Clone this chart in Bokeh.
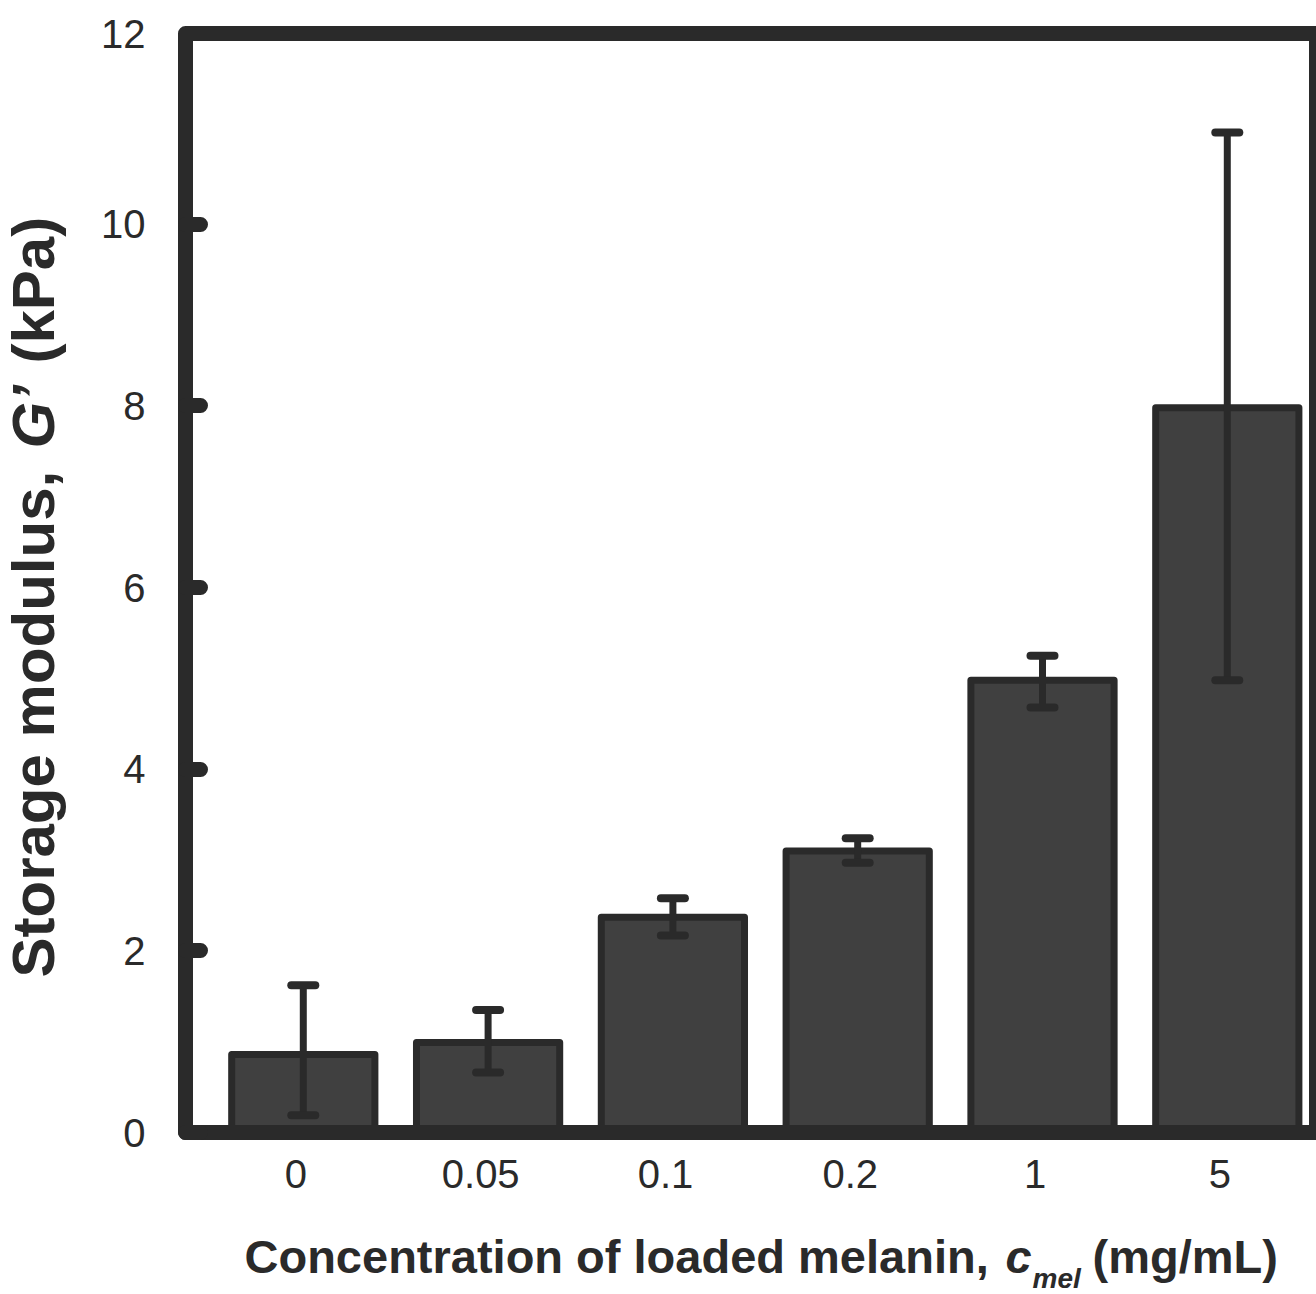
import math
from bokeh.plotting import figure
from bokeh.models import ColumnDataSource, FixedTicker, Whisker, TeeHead, Label, Range1d
from bokeh.embed import file_html
from bokeh.resources import INLINE

# ---- data ----
categories = ["0", "0.05", "0.1", "0.2", "1", "5"]          # c_mel (mg/mL)
g_prime = [0.86, 0.99, 2.37, 3.10, 4.98, 7.98]              # G' (kPa)
err_upper = [1.62, 1.35, 2.58, 3.24, 5.25, 11.01]
err_lower = [0.19, 0.66, 2.17, 2.97, 4.68, 4.98]
y_ticks = [0, 2, 4, 6, 8, 10]
y_top_tick = 12

INK = "#2a2a2a"
BAR = "#404040"
NUM_FONT = "Liberation Sans"
TITLE_FONT = "Liberation Sans"

W, H = 1316, 1294
# axes box (data units): left edge, bottom, top; right edge = canvas edge
X_LEFT, X_RIGHT = -0.6374, 5.4827
Y_TOP = 12.1
PX_X = 184.8                     # pixels per category
PX_Y = 1099 / Y_TOP              # pixels per kPa
x_start = X_LEFT - 185 / PX_X
y_start = -(H - 1132) / PX_Y
y_end = 1132 / PX_Y

pos = list(range(len(categories)))
src = ColumnDataSource(dict(x=pos, top=g_prime, upper=err_upper, lower=err_lower))

p = figure(width=W, height=H, output_backend="svg", toolbar_location=None,
           x_range=Range1d(x_start, X_RIGHT), y_range=Range1d(y_start, y_end),
           min_border=0, min_border_left=0, min_border_right=0,
           min_border_top=0, min_border_bottom=0)
p.background_fill_color = "white"
p.border_fill_color = "white"
p.outline_line_color = None
p.xgrid.visible = False
p.ygrid.visible = False

p.vbar(x="x", top="top", bottom=0, width=0.775, source=src,
       fill_color=BAR, line_color=INK, line_width=7, line_join="round")

# thick axes box
p.quad(left=[X_LEFT], right=[X_RIGHT], bottom=[0], top=[Y_TOP], fill_color=None,
       line_color=INK, line_width=15, line_join="round")

whisk = Whisker(source=src, base="x", upper="upper", lower="lower",
                line_color=INK, line_width=7, level="overlay",
                upper_head=TeeHead(size=24, line_color=INK, line_width=8, line_cap="round"),
                lower_head=TeeHead(size=24, line_color=INK, line_width=8, line_cap="round"))
p.add_layout(whisk)

xa = p.xaxis[0]
xa.fixed_location = 0
tick_pos = [i - 0.04 for i in pos]
xa.ticker = FixedTicker(ticks=tick_pos)
xa.major_label_overrides = {t: c for t, c in zip(tick_pos, categories)}
xa.axis_line_color = None
xa.major_tick_line_color = None
xa.minor_tick_line_color = None
xa.major_label_text_font = NUM_FONT
xa.major_label_text_font_size = "40px"
xa.major_label_text_color = INK
xa.major_label_standoff = 21

ya = p.yaxis[0]
ya.fixed_location = X_LEFT
ya.ticker = FixedTicker(ticks=y_ticks)
ya.axis_line_color = None
ya.minor_tick_line_color = None
ya.major_tick_in = 15
ya.major_tick_out = 0
ya.major_tick_line_width = 15
ya.major_tick_line_color = INK
ya.major_tick_line_cap = "round"
ya.major_label_text_font = NUM_FONT
ya.major_label_text_font_size = "40px"
ya.major_label_text_color = INK
ya.major_label_standoff = 40

# top tick label (its tick mark would sit under the frame line)
p.add_layout(Label(x=145, x_units="screen", y=Y_TOP, y_units="data", text=str(y_top_tick),
                   text_align="right", text_baseline="middle", text_font=NUM_FONT,
                   text_font_size="40px", text_color=INK))


def lab(text, x, y, size, style, angle=0.0):
    # x, y: canvas pixels measured from the left / bottom edge
    return Label(x=x, y=y, x_units="screen", y_units="screen", text=text, angle=angle,
                 text_align="left", text_baseline="alphabetic", text_font=TITLE_FONT,
                 text_font_size=size, text_font_style=style, text_color=INK)


# ---- x axis title (mixed styles) ----
p.add_layout(lab("Concentration of loaded melanin,", 244, 38, "47px", "bold"))
p.add_layout(lab("c", 1005, 38, "47px", "bold italic"))
p.add_layout(lab("mel", 1032, 16, "28px", "bold italic"))
p.add_layout(lab("(mg/mL)", 1092, 38, "47px", "bold"))

# ---- y axis title (rotated, mixed styles) ----
ang = math.pi / 2
p.add_layout(lab("Storage modulus,", 33, 317, "60px", "bold", ang))
p.add_layout(lab("G\u2019", 33, 846, "60px", "bold italic", ang))
p.add_layout(lab("(kPa)", 33, 931, "60px", "bold", ang))

open("out.html", "w").write(file_html(p, INLINE))
